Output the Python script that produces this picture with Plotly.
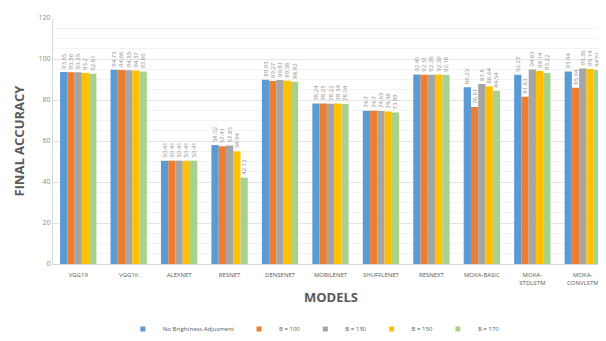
import plotly.graph_objects as go

models = ["VGG19", "VGG16", "ALEXNET", "RESNET", "DENSENET", "MOBILENET",
          "SHUFFLENET", "RESNEXT", "MOKA-BASIC", "MOKA-<br>STDLSTM", "MOKA-<br>CONVLSTM"]

no_adjust = [93.65, 94.73, 50.41, 58.02, 89.93, 78.24, 74.7, 92.41, 86.23, 92.27, 93.94]
b100 = [93.56, 94.66, 50.41, 57.41, 89.27, 78.25, 74.7, 92.31, 76.61, 81.63, 85.94]
b130 = [93.55, 94.55, 50.41, 57.83, 89.81, 78.22, 74.63, 92.36, 87.8, 94.83, 95.36]
b150 = [93.2, 94.37, 50.41, 54.94, 89.38, 78.34, 74.38, 92.39, 86.64, 94.14, 95.14]
b170 = [92.81, 93.86, 50.41, 42.12, 88.92, 78.04, 73.89, 92.18, 84.54, 93.22, 94.61]

series = [
    ("No Brightness Adjusment", no_adjust, "#5B9BD5"),
    ("B = 100", b100, "#ED7D31"),
    ("B = 130", b130, "#A5A5A5"),
    ("B = 150", b150, "#FFC000"),
    ("B = 170", b170, "#A9D18E"),
]

fig = go.Figure()
for name, vals, color in series:
    fig.add_trace(go.Bar(
        x=models, y=vals, name=name, showlegend=False,
        marker=dict(color=color, line=dict(width=0)),
        text=[str(v) for v in vals],
        textposition="outside",
        textangle=-90,
        textfont=dict(size=6, color="#8c8c8c"),
        cliponaxis=False,
    ))
    # small square swatch for the legend
    fig.add_trace(go.Scatter(
        x=[None], y=[None], mode="markers", name=name,
        marker=dict(symbol="square", size=5, color=color),
    ))

fig.update_layout(
    width=606, height=341,
    margin=dict(l=45, r=6, t=10, b=70),
    barmode="group",
    bargap=0.28,
    bargroupgap=0,
    plot_bgcolor="white",
    paper_bgcolor="white",
    font=dict(family="Open Sans, Liberation Sans, sans-serif", color="#595959"),
    uniformtext=dict(minsize=5, mode="show"),
    legend=dict(
        orientation="h", x=0.47, xanchor="center", y=-0.205, yanchor="top",
        font=dict(size=6, color="#595959"),
        itemwidth=30, tracegroupgap=0,
    ),
    xaxis=dict(
        automargin=False,
        tickfont=dict(size=6, color="#595959"),
        ticklabelstandoff=5,
        showline=True, linecolor="#d9d9d9", linewidth=1,
        ticks="",
    ),
    yaxis=dict(
        automargin=False,
        range=[0, 120], dtick=20,
        tickfont=dict(size=7, color="#8c8c8c"),
        showgrid=True, gridcolor="#e4e4e4", gridwidth=1,
        minor=dict(dtick=5, showgrid=True, gridcolor="#f3f3f3"),
        zeroline=False,
        showline=True, linecolor="#d9d9d9",
        ticks="",
    ),
    annotations=[
        dict(text="<b>MODELS</b>", xref="paper", yref="paper", x=0.5, y=-0.09,
             yanchor="top", showarrow=False, font=dict(size=13, color="#595959")),
        dict(text="<b>FINAL ACCURACY</b>", xref="paper", yref="paper", x=-0.062, y=0.5,
             xanchor="center", textangle=-90, showarrow=False,
             font=dict(size=13, color="#595959")),
    ],
)

fig.write_html("out.html")
